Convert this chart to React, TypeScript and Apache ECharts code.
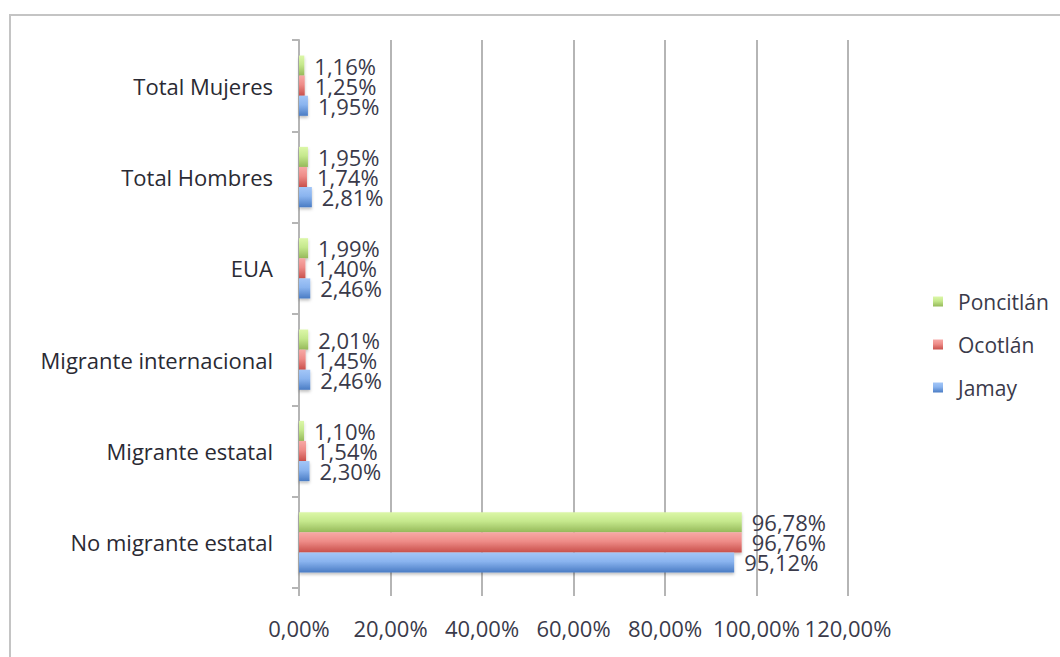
import React, { useEffect, useRef } from "react";
import * as echarts from "echarts";

const categories = [
  "No migrante estatal",
  "Migrante estatal",
  "Migrante internacional",
  "EUA",
  "Total Hombres",
  "Total Mujeres",
];
const jamay = [95.12, 2.3, 2.46, 2.46, 2.81, 1.95];
const ocotlan = [96.76, 1.54, 1.45, 1.4, 1.74, 1.25];
const poncitlan = [96.78, 1.1, 2.01, 1.99, 1.95, 1.16];
const legendOrder = ["Poncitlán", "Ocotlán", "Jamay"];

const FONT = "Open Sans";
const TXT = "#3a3a4a";
const fmt = (v: number) => v.toFixed(2).replace(".", ",") + "%";

function grad(top: string, mid: string, bottom: string) {
  return new echarts.graphic.LinearGradient(0, 0, 0, 1, [
    { offset: 0, color: top },
    { offset: 0.45, color: mid },
    { offset: 1, color: bottom },
  ]);
}

export default function App() {
  const ref = useRef<HTMLDivElement>(null);
  useEffect(() => {
    document.body.style.margin = "0";
    const chart = echarts.init(ref.current!, null, { renderer: "svg" });
    const mk = (name: string, data: number[], c: any) => ({
      name,
      type: "bar",
      data,
      barGap: "0%",
      barCategoryGap: "34%",
      itemStyle: {
        color: c,
        shadowColor: "rgba(0,0,0,0.25)",
        shadowBlur: 3,
        shadowOffsetY: 2,
      },
      label: {
        show: true,
        position: "right",
        distance: 10,
        formatter: (p: any) => fmt(p.value),
        fontFamily: FONT,
        fontSize: 22,
        lineHeight: 20,
        color: TXT,
      },
    });
    chart.setOption({
      animation: false,
      backgroundColor: "#ffffff",
      textStyle: { fontFamily: FONT },
      color: ["#b4d975", "#e27470", "#6f9de0"],
      graphic: [
        {
          type: "rect",
          shape: { x: 10, y: 15, width: 1200, height: 800 },
          style: { fill: "none", stroke: "#c4c4c4", lineWidth: 2 },
          z: -1,
        },
      ],
      grid: { left: 299, right: 212, top: 40, bottom: 69 },
      legend: {
        data: legendOrder,
        orient: "vertical",
        left: 928,
        top: 286,
        itemWidth: 10,
        itemHeight: 10,
        itemGap: 22,
        icon: "rect",
        textStyle: {
          fontFamily: FONT,
          fontSize: 21,
          color: TXT,
          padding: [0, 0, 0, 10],
        },
      },
      xAxis: {
        type: "value",
        min: 0,
        max: 120,
        interval: 20,
        axisLine: { show: false },
        axisTick: {
          show: true,
          length: 8,
          lineStyle: { color: "#b5b5b5", width: 2 },
        },
        splitLine: { show: true, lineStyle: { color: "#b5b5b5", width: 2 } },
        axisLabel: {
          formatter: (v: number) => fmt(v),
          fontFamily: FONT,
          fontSize: 22,
          color: TXT,
          margin: 29,
        },
      },
      yAxis: {
        type: "category",
        data: categories,
        axisLine: { show: true, lineStyle: { color: "#b5b5b5", width: 2 } },
        axisTick: {
          show: true,
          length: 7,
          lineStyle: { color: "#b5b5b5", width: 2 },
        },
        axisLabel: {
          fontFamily: FONT,
          fontSize: 22,
          color: "#2a2a33",
          margin: 26,
        },
      },
      series: [
        mk("Poncitlán", poncitlan, grad("#dcf7a8", "#c5e88c", "#95b95a")),
        mk("Ocotlán", ocotlan, grad("#f7a9a6", "#ee8c88", "#c9504b")),
        mk("Jamay", jamay, grad("#a3c6f7", "#8ab4ef", "#4a7cc4")),
      ],
    });
    return () => chart.dispose();
  }, []);
  return <div ref={ref} style={{ width: 1060, height: 657 }} />;
}
